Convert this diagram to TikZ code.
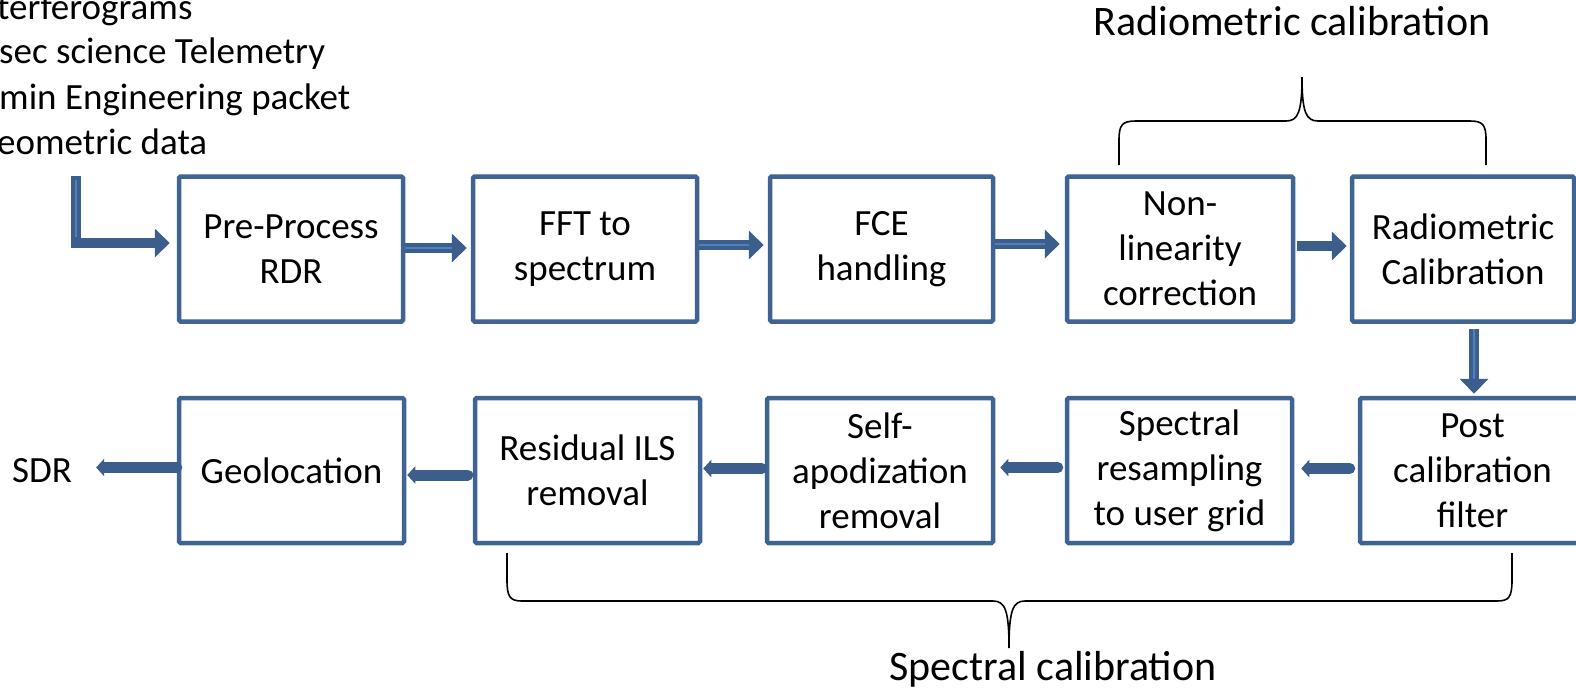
\documentclass[tikz,border=0pt]{standalone}
\usepackage{fontspec}
\setmainfont{Carlito}
\usetikzlibrary{arrows.meta,calc}
\definecolor{boxblue}{HTML}{3F6494}
\definecolor{arrblue}{HTML}{3B5E8C}
\definecolor{lightblue}{HTML}{4F81BD}
\newcommand\boxfont{\fontsize{37}{45}\selectfont}
\newcommand\bigfont{\fontsize{42}{50}\selectfont}
\tikzset{
 box/.style={draw=boxblue, line width=4.5pt, rounded corners=1.5pt, fill=white, minimum height=145pt, inner sep=0pt, align=center, font=\boxfont},
 fat/.style={draw=arrblue, line width=10.5pt, -{Triangle[width=28pt,length=15pt]}},
 fatcore/.style={draw=lightblue, line width=2.5pt},
 slim/.style={draw=arrblue, line width=11pt, line cap=round, -{Triangle[width=17pt,length=8pt]}},
 lbl/.style={font=\boxfont, inner sep=0pt},
 big/.style={font=\bigfont, inner sep=0pt},
 bracepath/.style={draw=black, line width=1.6pt}
}
\begin{document}
\begin{tikzpicture}[x=1pt,y=-1pt]
\useasboundingbox (0,0) rectangle (1576,689);
% top row
\node[box, minimum width=224pt] (pre) at (291,249) {Pre-Process\\RDR};
\node[box, minimum width=224pt] (fft) at (585,249) {FFT to\\spectrum};
\node[box, minimum width=223pt] (fce) at (881.5,249) {FCE\\handling};
\node[box, minimum width=226pt] (nonlin) at (1180,249) {Non-\\linearity\\correction};
\node[box, minimum width=222pt] (rad) at (1463,249) {Radiometric\\Calibration};
% bottom row
\node[box, minimum width=225pt] (geo) at (291.5,470.5) {Geolocation};
\node[box, minimum width=225pt] (res) at (587.5,470.5) {Residual ILS\\removal};
\node[box, minimum width=226pt] (self) at (880,470.5) {Self-\\apodization\\removal};
\node[box, minimum width=225pt] (spec) at (1179.5,470.5) {Spectral\\resampling\\to user grid};
\node[box, minimum width=225pt] (post) at (1472.5,470.5) {Post\\calibration\\filter};
% input text
\node[lbl, anchor=base west] (in1) at (-3,19) {terferograms};
\node[lbl, anchor=base west] (in2) at (-1,63.5) {sec science Telemetry};
\node[lbl, anchor=base west] (in3) at (-1,109) {min Engineering packet};
\node[lbl, anchor=base west] (in4) at (-3,154.5) {eometric data};
\node[lbl, anchor=base] (sdr) at (42,482) {SDR};
% labels
\node[big, anchor=base] (radlbl) at (1292,35) {Radiometric calibration};
\node[big, anchor=base] (speclbl) at (1053,680) {Spectral calibration};
% input arrow
\coordinate (inTop) at (76,176);
\draw[fat, shorten >=7pt] (inTop) |- ([yshift=6pt]pre.west);
\draw[fatcore] ([yshift=-4pt]inTop) -- ([yshift=12pt]inTop |- pre.west);
% top arrows
\draw[fat, shorten >=4pt] ([yshift=1pt]pre.east) -- ([yshift=1pt]fft.west);
\draw[fatcore, shorten >=19pt] ([yshift=1pt]pre.east) -- ([yshift=1pt]fft.west);
\draw[fat, shorten >=4pt] ([yshift=4pt]fft.east) -- ([yshift=4pt]fce.west);
\draw[fatcore, shorten >=19pt] ([yshift=4pt]fft.east) -- ([yshift=4pt]fce.west);
\draw[fat, shorten >=5pt] ([yshift=5pt]fce.east) -- ([yshift=5pt]nonlin.west);
\draw[fatcore, shorten >=20pt] ([yshift=5pt]fce.east) -- ([yshift=5pt]nonlin.west);
\draw[fat, shorten <=2pt, shorten >=3pt] ([yshift=3pt]nonlin.east) -- ([yshift=3pt]rad.west);
% down arrow
\draw[fat, shorten <=5pt, shorten >=2pt] ([xshift=11pt]rad.south) -- ([xshift=11pt]rad.south |- post.north);
\draw[fatcore, shorten <=5pt, shorten >=17pt] ([xshift=11pt]rad.south) -- ([xshift=11pt]rad.south |- post.north);
% bottom arrows
\draw[slim, shorten <=8pt, shorten >=7pt] ([yshift=2pt]post.west) -- ([yshift=2pt]spec.east);
\draw[slim, shorten <=7pt, shorten >=5pt] ([yshift=3pt]spec.west) -- ([yshift=3pt]self.east);
\draw[slim, shorten <=3pt, shorten >=1pt] ([yshift=2pt]self.west) -- ([yshift=2pt]res.east);
\draw[slim, shorten <=5pt, shorten >=1pt] ([yshift=-4.5pt]res.west) -- ([yshift=-4.5pt]geo.east);
\draw[slim, shorten >=24pt] ([yshift=3pt]geo.west) -- ([yshift=3pt]geo.west -| sdr.east);
% braces
\draw[bracepath] (1119,165) -- (1119,140) .. controls (1119,125) and (1122,121) .. (1136,121) -- (1286,121) .. controls (1298,121) and (1302,112) .. (1302,77) .. controls (1302,112) and (1306,121) .. (1318,121) -- (1470,121) .. controls (1483,121) and (1486,125) .. (1486,140) -- (1486,165);
\draw[bracepath] (507,553) -- (507,580) .. controls (507,597) and (510,601) .. (522,601) -- (993,601) .. controls (1005,601) and (1009,610) .. (1009,648) .. controls (1009,610) and (1013,601) .. (1025,601) -- (1497,601) .. controls (1509,601) and (1512,597) .. (1512,580) -- (1512,553);
\end{tikzpicture}
\end{document}
